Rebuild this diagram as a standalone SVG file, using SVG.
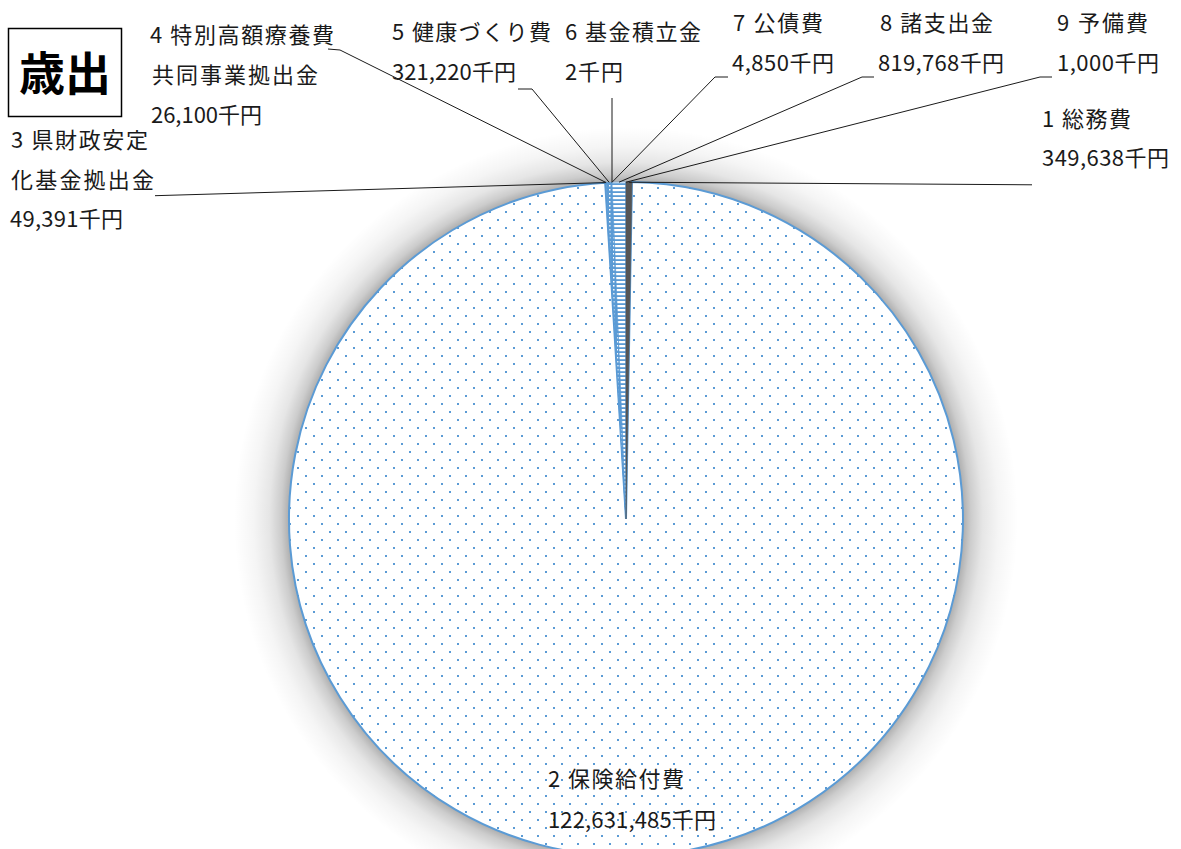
<svg xmlns="http://www.w3.org/2000/svg" width="1181" height="849" viewBox="0 0 1181 849">
<style>
.lbl{font-family:"Noto Sans CJK JP","Noto Sans",sans-serif;font-size:22px;fill:#1a1a1a;}
.title{font-family:"Noto Sans CJK JP","Noto Sans",sans-serif;font-size:46px;font-weight:bold;fill:#000;}
.lead{fill:none;stroke:#1a1a1a;stroke-width:1;}
.slice{stroke:#5B9BD5;stroke-width:0.6;}
.main{stroke:#5B9BD5;stroke-width:2;}
</style>
<defs>
<pattern id="dots" patternUnits="userSpaceOnUse" width="16" height="16">
<rect width="16" height="16" fill="#fff"/>
<rect x="1" y="11" width="2" height="2" fill="#5B9BD5"/>
<rect x="9" y="3" width="2" height="2" fill="#5B9BD5"/>
</pattern>
<pattern id="dotsInv" patternUnits="userSpaceOnUse" width="4" height="4">
<rect width="4" height="4" fill="#5B9BD5"/>
<rect x="1" y="1" width="1.5" height="1.5" fill="#fff"/>
</pattern>
<pattern id="hstripe" patternUnits="userSpaceOnUse" width="4" height="4">
<rect width="4" height="4" fill="#5B9BD5"/>
<rect y="1" width="4" height="2.2" fill="#fff"/>
</pattern>
<radialGradient id="shg" cx="626" cy="519" r="392" gradientUnits="userSpaceOnUse">
<stop offset="0" stop-color="#000" stop-opacity="0.33"/>
<stop offset="0.858" stop-color="#000" stop-opacity="0.33"/>
<stop offset="0.88" stop-color="#000" stop-opacity="0.2"/>
<stop offset="0.91" stop-color="#000" stop-opacity="0.1"/>
<stop offset="0.95" stop-color="#000" stop-opacity="0.04"/>
<stop offset="1" stop-color="#000" stop-opacity="0"/>
</radialGradient>
</defs>
<rect width="1181" height="849" fill="#fff"/>

<g id="title">
<rect x="8.5" y="28.5" width="113" height="88" fill="#fff" stroke="#000" stroke-width="1.5"/>
<text class="title" x="65" y="90" text-anchor="middle">歳出</text>
</g>

<g id="pie">
<circle id="shadow" cx="626" cy="519" r="392" fill="url(#shg)"/>
<g id="slice-2">
<path class="main" d="M626,519 L631.96,182.05 A337,337 0 1,1 605.17,182.64 Z" fill="url(#dots)"/>
</g>
<g id="slice-3"><path class="slice" d="M626,519 L605.17,182.64 L606.02,182.59 Z" fill="#5B9BD5"/></g>
<g id="slice-4"><path class="slice" d="M626,519 L606.02,182.59 L606.46,182.57 Z" fill="#9DC3E6"/></g>
<g id="slice-5"><path class="slice" d="M626,519 L606.46,182.57 L611.93,182.29 Z" fill="url(#dotsInv)"/></g>
<g id="slice-6"><path class="slice" d="M626,519 L611.93,182.29 L611.94,182.29 Z" fill="#5B9BD5"/></g>
<g id="slice-7"><path class="slice" d="M626,519 L611.94,182.29 L612.01,182.29 Z" fill="#5B9BD5"/></g>
<g id="slice-8"><path class="slice" d="M626,519 L612.01,182.29 L625.98,182 Z" fill="url(#hstripe)"/></g>
<g id="slice-9"><path class="slice" d="M626,519 L625.98,182 L626,182 Z" fill="#5B9BD5"/></g>
<g id="slice-1"><path d="M626,519 L626,182 L631.96,182.05 Z" fill="#555" stroke="#555" stroke-width="0.6"/></g>
</g>

<g id="connectors">
<polyline class="lead" points="1032,184.8 629,182.2"/>
<polyline class="lead" points="1052,77 1040,77 626,182.2"/>
<polyline class="lead" points="874,77 862,77 619,182.2"/>
<polyline class="lead" points="728,77 715,77 612,182.3"/>
<polyline class="lead" points="612,98 612,182.3"/>
<polyline class="lead" points="518,89 532,89 609.2,182.4"/>
<polyline class="lead" points="328,49 340,50 606.2,182.6"/>
<polyline class="lead" points="155,195.7 605.6,182.6"/>
</g>

<g id="label-1">
<text class="lbl" x="1042" y="126.5" textLength="89" lengthAdjust="spacing">1 総務費</text>
<text class="lbl" x="1042" y="165.5" textLength="127" lengthAdjust="spacing">349,638千円</text>
</g>
<g id="label-2">
<text class="lbl" x="548" y="787" textLength="136" lengthAdjust="spacing">2 保険給付費</text>
<text class="lbl" x="548" y="828" textLength="168" lengthAdjust="spacing">122,631,485千円</text>
</g>
<g id="label-3">
<text class="lbl" x="11" y="147.5" textLength="137" lengthAdjust="spacing">3 県財政安定</text>
<text class="lbl" x="11" y="188" textLength="143" lengthAdjust="spacing">化基金拠出金</text>
<text class="lbl" x="10" y="227" textLength="113" lengthAdjust="spacing">49,391千円</text>
</g>
<g id="label-4">
<text class="lbl" x="150" y="43" textLength="184" lengthAdjust="spacing">4 特別高額療養費</text>
<text class="lbl" x="152" y="83" textLength="166" lengthAdjust="spacing">共同事業拠出金</text>
<text class="lbl" x="151" y="123" textLength="111" lengthAdjust="spacing">26,100千円</text>
</g>
<g id="label-5">
<text class="lbl" x="392" y="39.5" textLength="159" lengthAdjust="spacing">5 健康づくり費</text>
<text class="lbl" x="392" y="80" textLength="124" lengthAdjust="spacing">321,220千円</text>
</g>
<g id="label-6">
<text class="lbl" x="565" y="39.5" textLength="136" lengthAdjust="spacing">6 基金積立金</text>
<text class="lbl" x="565" y="80" textLength="58" lengthAdjust="spacing">2千円</text>
</g>
<g id="label-7">
<text class="lbl" x="733" y="30.5" textLength="90" lengthAdjust="spacing">7 公債費</text>
<text class="lbl" x="732" y="70.5" textLength="102" lengthAdjust="spacing">4,850千円</text>
</g>
<g id="label-8">
<text class="lbl" x="880" y="30.5" textLength="113" lengthAdjust="spacing">8 諸支出金</text>
<text class="lbl" x="878" y="70.5" textLength="126" lengthAdjust="spacing">819,768千円</text>
</g>
<g id="label-9">
<text class="lbl" x="1057" y="30.5" textLength="91" lengthAdjust="spacing">9 予備費</text>
<text class="lbl" x="1057" y="70.5" textLength="102" lengthAdjust="spacing">1,000千円</text>
</g>
</svg>
